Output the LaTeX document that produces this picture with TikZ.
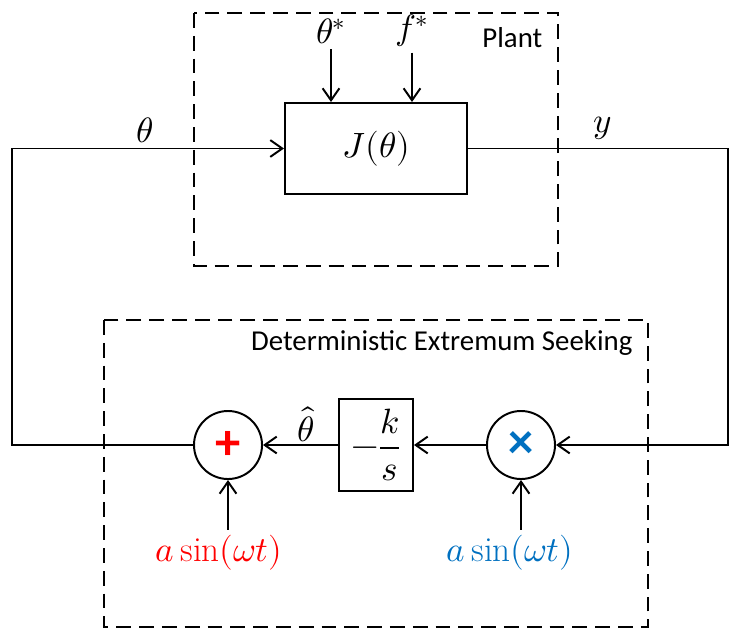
\documentclass[tikz,border=0pt]{standalone}
\usepackage{amsmath}
\usepackage{fontspec}
\usepackage{unicode-math}
\setmainfont{Carlito}
\setmathfont{Latin Modern Math}[Scale=1.22]
\setmathrm{Latin Modern Roman}[Scale=1.22]
\usetikzlibrary{arrows.meta}
\definecolor{sumred}{RGB}{255,0,0}
\definecolor{multblue}{RGB}{0,112,192}
\begin{document}
\begin{tikzpicture}[x=0.025cm, y=-0.025cm, line width=1.4pt,
    >={Straight Barb[length=3mm, width=4.2mm]},
    every node/.style={font=\fontsize{20.5}{24}\selectfont},
    block/.style={draw, rectangle, inner sep=0pt},
    junction/.style={draw, circle, minimum size=1.7cm, inner sep=0pt},
    dashbox/.style={dash pattern=on 0.37cm off 0.2cm}]
    \useasboundingbox (0,0) rectangle (729,630);

    
    \draw[dashbox] (194,13) rectangle (558,266);
    \node[anchor=east] (plantlbl) at (548,38) {Plant};
    \node[block, minimum width=4.55cm, minimum height=2.275cm] (J) at (376,148.5) {$J(\theta)$};
    \node (tstar) at (331,31) {$\theta^{*}$};
    \node (fstar) at (412,31) {$f^{*}$};
    \draw[->] (tstar) -- (tstar |- J.north);
    \draw[->] (fstar) -- (fstar |- J.north);

    \node (thetalbl) at (145,130) {$\theta$};
    \node (ylbl) at (603,128) {$y$};

    
    \draw[dashbox] (104,320) rectangle (648,627);
    \node[anchor=east] (eslbl) at (638,343) {Deterministic Extremum Seeking};

    \node[junction] (sum) at (228,445) {\textcolor{sumred}{\fontsize{36}{36}\selectfont\textbf{+}}};
    \node[block, minimum width=1.85cm, minimum height=2.3cm] (gain) at (376,445) {$-\dfrac{k}{s}$};
    \node[junction] (mult) at (521,445) {\textcolor{multblue}{\fontsize{36}{36}\selectfont\textbf{×}}};
    \node[inner sep=1pt] (thetahat) at (306,424) {$\hat{\theta}$};

    \node (sinred) at (219,553) {\color{sumred}$a\sin(\omega t)$};
    \node (sinblue) at (510,553) {\color{multblue}$a\sin(\omega t)$};
    \draw[->] (sum |- sinred.north) -- (sum);
    \draw[->] (mult |- sinblue.north) -- (mult);

    
    \coordinate (left) at (12,445);
    \coordinate (right) at (728,445);
    \draw[->] (sum) -- (left) |- (J);
    \draw[->] (J) -| (right) -- (mult);
    \draw[->] (mult) -- (gain);
    \draw[->] (gain) -- (sum);
\end{tikzpicture}
\end{document}
